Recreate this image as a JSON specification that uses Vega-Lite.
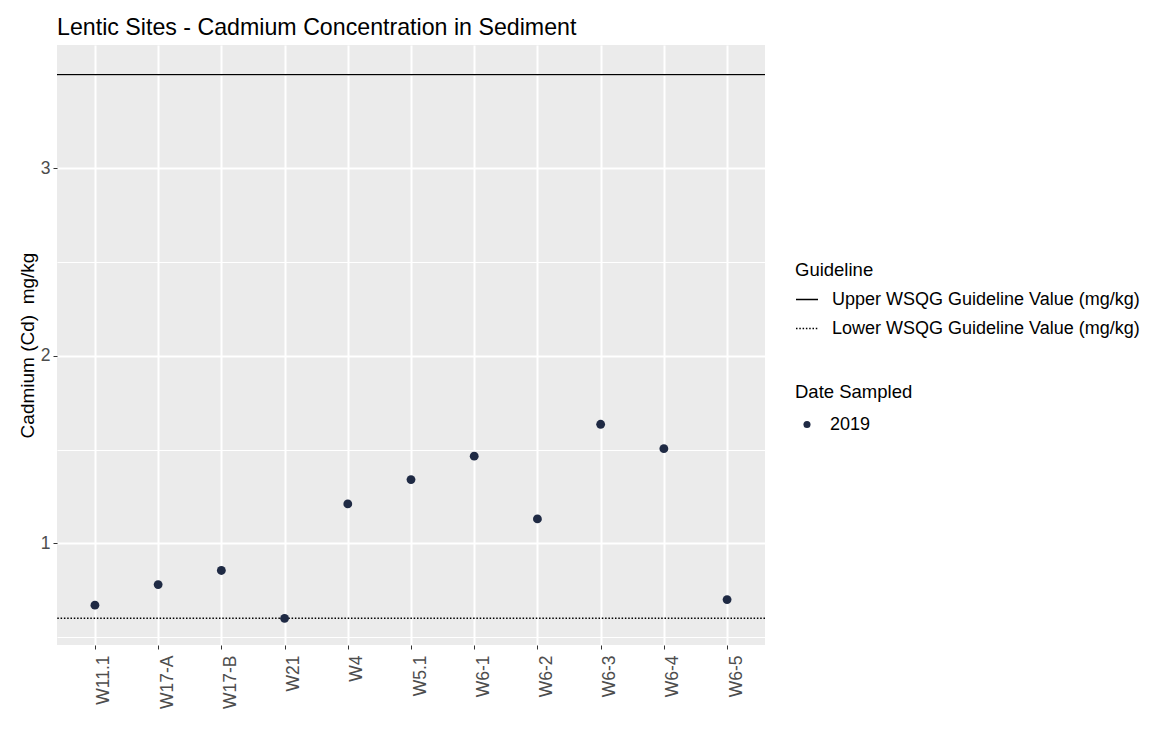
{
  "$schema": "https://vega.github.io/schema/vega-lite/v6.json",
  "width": 708,
  "height": 600,
  "autosize": {"type": "none"},
  "padding": {"left": 57, "top": 45, "right": 389, "bottom": 97},
  "background": "white",
  "title": {
    "text": "Lentic Sites - Cadmium Concentration in Sediment",
    "anchor": "start",
    "frame": "group",
    "fontSize": 23.2,
    "font": "Liberation Sans",
    "fontWeight": "normal",
    "color": "black",
    "baseline": "bottom",
    "offset": 6,
    "dy": 24
  },
  "datasets": {
    "samples": [
      {"site": "W11.1", "cd": 0.67, "date": "2019"},
      {"site": "W17-A", "cd": 0.78, "date": "2019"},
      {"site": "W17-B", "cd": 0.855, "date": "2019"},
      {"site": "W21", "cd": 0.6, "date": "2019"},
      {"site": "W4", "cd": 1.21, "date": "2019"},
      {"site": "W5.1", "cd": 1.34, "date": "2019"},
      {"site": "W6-1", "cd": 1.465, "date": "2019"},
      {"site": "W6-2", "cd": 1.13, "date": "2019"},
      {"site": "W6-3", "cd": 1.635, "date": "2019"},
      {"site": "W6-4", "cd": 1.505, "date": "2019"},
      {"site": "W6-5", "cd": 0.7, "date": "2019"}
    ],
    "guides": [
      {"guideline": "Upper WSQG Guideline Value (mg/kg)", "value": 3.5},
      {"guideline": "Lower WSQG Guideline Value (mg/kg)", "value": 0.6}
    ]
  },
  "layer": [
    {
      "data": {"name": "guides"},
      "mark": {"type": "rule", "color": "black", "strokeWidth": 1.4},
      "encoding": {
        "y": {
          "field": "value",
          "type": "quantitative",
          "scale": {"domain": [0.4576, 3.658], "nice": false, "zero": false},
          "axis": {
            "orient": "left",
            "values": [0.5, 1.5, 2.5, 3.5],
            "grid": true,
            "gridColor": "white",
            "gridWidth": 1,
            "ticks": false,
            "labels": false,
            "domain": false,
            "title": null
          }
        },
        "strokeDash": {
          "field": "guideline",
          "type": "nominal",
          "scale": {
            "domain": ["Upper WSQG Guideline Value (mg/kg)", "Lower WSQG Guideline Value (mg/kg)"],
            "range": [[1, 0], [1.5, 1.8]]
          },
          "legend": {
            "title": "Guideline",
            "orient": "none",
            "legendX": 738,
            "legendY": 216,
            "titleFont": "Liberation Sans",
            "titleFontSize": 18.5,
            "titleFontWeight": "normal",
            "titleColor": "black",
            "titlePadding": 8,
            "labelFont": "Liberation Sans",
            "labelFontSize": 18,
            "labelColor": "black",
            "labelLimit": 0,
            "labelOffset": 13,
            "symbolType": "stroke",
            "symbolSize": 484,
            "symbolStrokeWidth": 1.4,
            "symbolStrokeColor": "black",
            "rowPadding": 8
          }
        }
      }
    },
    {
      "data": {"name": "samples"},
      "mark": {"type": "circle", "size": 78, "opacity": 1},
      "encoding": {
        "x": {
          "field": "site",
          "type": "nominal",
          "sort": null,
          "scale": {"type": "point", "padding": 0.6},
          "axis": {
            "title": null,
            "grid": true,
            "gridColor": "white",
            "gridWidth": 2,
            "domain": false,
            "tickSize": 4,
            "tickColor": "#333333",
            "labelAngle": -90,
            "labelAlign": "right",
            "labelBaseline": "top",
            "labelFont": "Liberation Sans",
            "labelFontSize": 17.5,
            "labelColor": "#4D4D4D",
            "labelPadding": 6
          }
        },
        "y": {
          "field": "cd",
          "type": "quantitative",
          "scale": {"domain": [0.4576, 3.658], "nice": false, "zero": false},
          "axis": {
            "orient": "left",
            "values": [1, 2, 3],
            "grid": true,
            "gridColor": "white",
            "gridWidth": 2,
            "domain": false,
            "tickSize": 4,
            "tickColor": "#333333",
            "labelFont": "Liberation Sans",
            "labelFontSize": 17.5,
            "labelColor": "#4D4D4D",
            "labelPadding": 3,
            "title": "Cadmium (Cd)\u00a0 mg/kg",
            "titleFont": "Liberation Sans",
            "titleFontSize": 19,
            "titleFontWeight": "normal",
            "titleColor": "black",
            "titleAngle": 270,
            "titleAlign": "center",
            "titleBaseline": "alphabetic",
            "titleX": -24,
            "titleY": 300
          }
        },
        "color": {
          "field": "date",
          "type": "nominal",
          "scale": {"range": ["#1F2A44"]},
          "legend": {
            "title": "Date Sampled",
            "orient": "none",
            "legendX": 738,
            "legendY": 338,
            "titleFont": "Liberation Sans",
            "titleFontSize": 18.5,
            "titleFontWeight": "normal",
            "titleColor": "black",
            "titlePadding": 14,
            "labelFont": "Liberation Sans",
            "labelFontSize": 18,
            "labelColor": "black",
            "symbolType": "circle",
            "symbolSize": 50,
            "symbolOffset": 3,
            "labelOffset": 14,
            "symbolOpacity": 1
          }
        }
      }
    }
  ],
  "resolve": {"axis": {"y": "independent"}},
  "config": {"view": {"fill": "#EBEBEB", "stroke": null}}
}
